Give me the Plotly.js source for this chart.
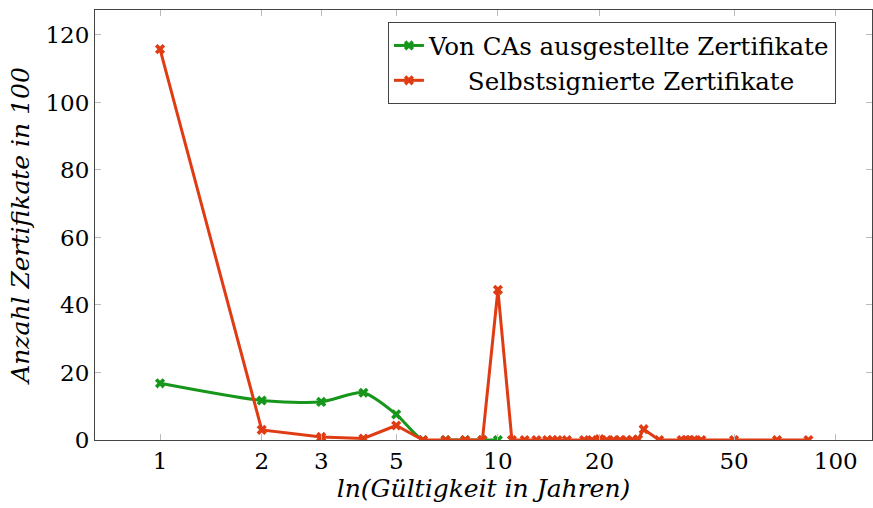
<!DOCTYPE html>
<html>
<head>
<meta charset="utf-8">
<script src="https://cdn.plot.ly/plotly-3.0.1.min.js"></script>
<style>html,body{margin:0;padding:0;background:#fff;}#chart{width:873px;height:508px;}</style>
</head>
<body>
<div id="chart"></div>
<script>
// Gültigkeit in Jahren (x) and Anzahl Zertifikate in 100 (y)
const caYears = [1, 2, 3, 4, 5, 6, 7, 8, 9, 10];
const caCounts = [16.8, 11.7, 11.3, 14.0, 7.6, 0, 0, 0, 0, 0];

const selfYears = [1, 2, 3, 4, 5, 6, 7, 8, 9, 10, 11, 12, 13, 14, 14.5, 15, 16,
  18, 19, 20, 21, 22, 23, 24, 25, 26, 27, 30, 35, 36, 37, 38, 40, 50, 67, 83];
const selfCounts = [115.8, 3.0, 0.9, 0.45, 4.3, 0, 0, 0, 0, 44.5, 0, 0, 0, 0, 0, 0, 0,
  0, 0, 0.3, 0, 0, 0, 0, 0, 0.2, 3.2, 0, 0, 0, 0, 0, 0, 0, 0, 0];

const xTicks = [1, 2, 3, 5, 10, 20, 50, 100];
const yTicks = [0, 20, 40, 60, 80, 100, 120];

const seriesNames = ['Von CAs ausgestellte Zertifikate',
  '\u00a0\u00a0\u00a0\u00a0\u00a0Selbstsignierte Zertifikate'];

const font = 'DejaVu Serif';
const green = '#17961c';
const red = '#e03c14';

const traces = [
  {x: caYears, y: caCounts, name: seriesNames[0], type: 'scatter', mode: 'lines+markers',
   line: {color: green, width: 3, shape: 'spline', smoothing: 0.7},
   marker: {symbol: 'x', size: 9, color: green}},
  {x: selfYears, y: selfCounts, name: seriesNames[1], type: 'scatter', mode: 'lines+markers',
   line: {color: red, width: 3, shape: 'linear'},
   marker: {symbol: 'x', size: 9, color: red}}
];

const layout = {
  width: 873, height: 508,
  margin: {l: 95, r: 1, t: 10, b: 68},
  paper_bgcolor: '#fff', plot_bgcolor: '#fff',
  font: {family: font, size: 22, color: '#000'},
  showlegend: true,
  legend: {x: 0.377, y: 0.972, xanchor: 'left', yanchor: 'top',
    bordercolor: '#444', borderwidth: 1, bgcolor: '#fff',
    font: {family: font, size: 24.5, color: '#000'}, tracegroupgap: 0, itemwidth: 30},
  xaxis: {
    type: 'log', range: [Math.log10(0.642), Math.log10(128)],
    tickvals: xTicks, ticktext: xTicks.map(String),
    ticks: 'inside', ticklen: 6, tickcolor: '#bbb', tickwidth: 1,
    showline: true, linecolor: '#444', linewidth: 1, mirror: 'ticks',
    showgrid: false, zeroline: false,
    tickfont: {family: font, size: 23},
    title: {text: '<i>ln(Gültigkeit in Jahren)</i>', font: {family: font, size: 25}, standoff: 6}
  },
  yaxis: {
    range: [0, 127.4],
    tickvals: yTicks, ticktext: yTicks.map(String),
    ticks: 'inside', ticklen: 6, tickcolor: '#bbb', tickwidth: 1,
    showline: true, linecolor: '#444', linewidth: 1, mirror: 'ticks',
    showgrid: false, zeroline: false,
    tickfont: {family: font, size: 23},
    title: {text: '<i>Anzahl Zertifikate in 100</i>', font: {family: font, size: 25}, standoff: 8}
  }
};

Plotly.newPlot('chart', traces, layout, {displayModeBar: false, staticPlot: true});
</script>
</body>
</html>
